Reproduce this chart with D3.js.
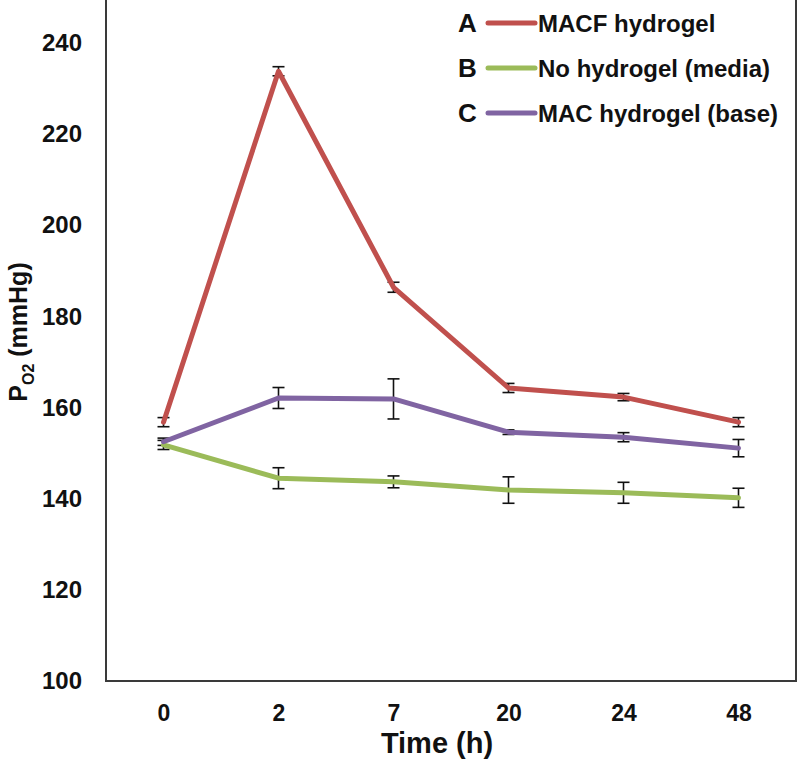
<!DOCTYPE html>
<html>
<head>
<meta charset="utf-8">
<script src="https://cdn.jsdelivr.net/npm/d3@7"></script>
<style>
  body { margin: 0; background: #fff; }
  svg text { font-family: "Liberation Sans", Arial, sans-serif; font-weight: bold; fill: #111; }
</style>
</head>
<body>
<svg width="800" height="760"></svg>
<script>
// ------------- data -------------
var times = ["0", "2", "7", "20", "24", "48"];
var yTicks = [100, 120, 140, 160, 180, 200, 220, 240];

var seriesNames = ["MACF hydrogel", "No hydrogel (media)", "MAC hydrogel (base)"];
var seriesLetters = ["A", "B", "C"];
var seriesColors = ["#c0504d", "#9bbb59", "#8064a2"];

var macfMean  = [156.8, 233.8, 186.4, 164.3, 162.3, 156.8];
var macfErr   = [1.0, 1.0, 1.1, 1.0, 0.8, 1.0];
var mediaMean = [151.8, 144.5, 143.7, 141.9, 141.3, 140.2];
var mediaErr  = [1.0, 2.3, 1.3, 2.9, 2.3, 2.1];
var macMean   = [152.5, 162.1, 161.9, 154.6, 153.5, 151.1];
var macErr    = [0.8, 2.3, 4.4, 0.5, 1.0, 1.9];

var means = [macfMean, mediaMean, macMean];
var errs = [macfErr, mediaErr, macErr];

// ------------- layout -------------
var left = 106, right = 796, bottom = 681;

var svg = d3.select("svg");

var x = d3.scalePoint()
  .domain(times)
  .range([left, right])
  .padding(0.5);

var y = d3.scaleLinear()
  .domain([100, 240])
  .range([bottom, 43]);

// y axis labels
svg.append("g")
  .attr("transform", "translate(" + left + ",0)")
  .call(d3.axisLeft(y).tickValues(yTicks).tickSize(0).tickPadding(24))
  .call(function(g) { g.select(".domain").remove(); })
  .selectAll("text")
    .style("font-size", "24px")
    .style("font-family", "Liberation Sans, Arial, sans-serif")
    .style("font-weight", "bold");

// x axis labels
svg.append("g")
  .attr("transform", "translate(0," + bottom + ")")
  .call(d3.axisBottom(x).tickSize(0).tickPadding(24))
  .call(function(g) { g.select(".domain").remove(); })
  .selectAll("text")
    .style("font-size", "23px")
    .style("font-family", "Liberation Sans, Arial, sans-serif")
    .style("font-weight", "bold");

// frame
svg.append("path")
  .attr("d", "M" + left + ",0V" + bottom + "H" + right + "V0")
  .attr("fill", "none")
  .attr("stroke", "#3a3a3a")
  .attr("stroke-width", 2);

// axis titles
svg.append("text")
  .attr("x", 437)
  .attr("y", 753)
  .style("text-anchor", "middle")
  .style("font-size", "29px")
  .text("Time (h)");

var ylab = svg.append("text")
  .attr("transform", "translate(27,332) rotate(-90)")
  .style("text-anchor", "middle")
  .style("font-size", "25px");
ylab.append("tspan").text("P");
ylab.append("tspan").attr("dy", 7).style("font-size", "16px").text("O2");
ylab.append("tspan").attr("dy", -7).text(" (mmHg)");

// ------------- error bars -------------
var cap = 6;
means.forEach(function(m, s) {
  var g = svg.append("g").attr("stroke", "#111").attr("stroke-width", 1.6);
  times.forEach(function(t, i) {
    var cx = x(t), lo = y(m[i] - errs[s][i]), hi = y(m[i] + errs[s][i]);
    g.append("line").attr("x1", cx).attr("x2", cx).attr("y1", lo).attr("y2", hi);
    g.append("line").attr("x1", cx - cap).attr("x2", cx + cap).attr("y1", lo).attr("y2", lo);
    g.append("line").attr("x1", cx - cap).attr("x2", cx + cap).attr("y1", hi).attr("y2", hi);
  });
});

// ------------- lines -------------
var line = d3.line()
  .x(function(d, i) { return x(times[i]); })
  .y(function(d) { return y(d); });

means.forEach(function(m, s) {
  svg.append("path")
    .datum(m)
    .attr("d", line)
    .attr("fill", "none")
    .attr("stroke", seriesColors[s])
    .attr("stroke-width", 5)
    .attr("stroke-linejoin", "round")
    .attr("stroke-linecap", "round");
});

// ------------- legend -------------
var legend = svg.append("g")
  .selectAll("g")
  .data(seriesNames)
  .enter()
  .append("g")
  .attr("transform", function(d, i) { return "translate(458," + (23 + i * 45) + ")"; });

legend.append("text")
  .attr("x", 0)
  .attr("y", 9)
  .style("font-size", "26px")
  .text(function(d, i) { return seriesLetters[i]; });

legend.append("line")
  .attr("x1", 30).attr("x2", 77)
  .attr("y1", 0).attr("y2", 0)
  .attr("stroke", function(d, i) { return seriesColors[i]; })
  .attr("stroke-width", 5)
  .attr("stroke-linecap", "round");

legend.append("text")
  .attr("x", 80)
  .attr("y", 9)
  .style("font-size", "24px")
  .text(function(d) { return d; });
</script>
</body>
</html>
